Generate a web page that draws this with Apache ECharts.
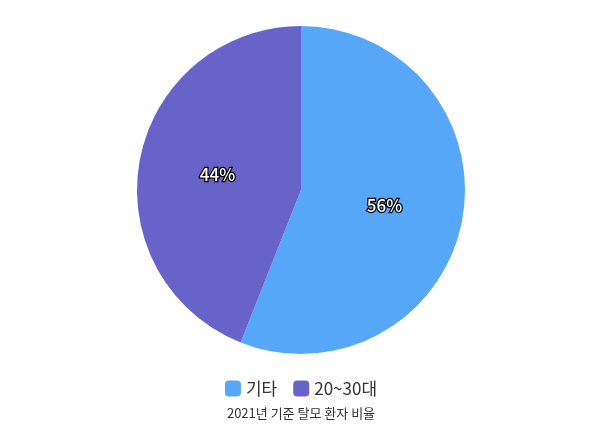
<!DOCTYPE html>
<html><head><meta charset="utf-8">
<script src="https://cdn.jsdelivr.net/npm/echarts@6/dist/echarts.min.js"></script>
<style>html,body{margin:0;padding:0;background:#fff}#c{width:602px;height:446px}</style>
</head><body><div id="c"></div>
<script>
const categories = ['기타', '20~30대'];
const values = [56, 44];
const colors = ['#57a7f8', '#6863c9'];
const titleText = '2021년 기준 탈모 환자 비율';

const chart = echarts.init(document.getElementById('c'));
chart.setOption({
  animation: false,
  textStyle: { fontFamily: 'Noto Sans CJK KR' },
  title: {
    text: titleText, left: 'center', top: 402,
    textStyle: { fontSize: 13, fontWeight: 'normal', color: '#333', fontFamily: 'Noto Sans CJK KR' }
  },
  legend: {
    data: categories, left: 'center', top: 375,
    icon: 'roundRect', itemWidth: 16, itemHeight: 16, itemGap: 16,
    textStyle: { fontSize: 17, color: '#333', fontFamily: 'Noto Sans CJK KR' }
  },
  series: [{
    type: 'pie',
    center: [301, 190],
    radius: 164,
    startAngle: 90,
    clockwise: true,
    color: colors,
    label: {
      show: true, position: 'inside', formatter: '{d}%',
      color: '#fff', fontSize: 17, fontWeight: 500,
      textBorderColor: '#000', textBorderWidth: 2.5,
      fontFamily: 'Noto Sans CJK KR'
    },
    labelLine: { show: false },
    data: categories.map((c, i) => ({ name: c, value: values[i] }))
  }]
});
</script></body></html>
